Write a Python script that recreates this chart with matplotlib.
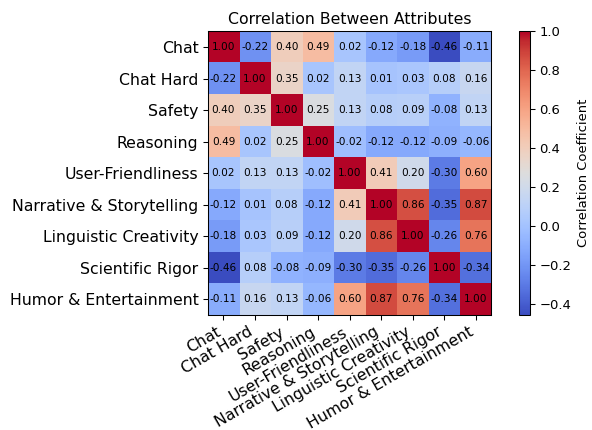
import numpy as np
import matplotlib
matplotlib.use("Agg")
import matplotlib.pyplot as plt

attributes = ["Chat", "Chat Hard", "Safety", "Reasoning", "User-Friendliness",
              "Narrative & Storytelling", "Linguistic Creativity",
              "Scientific Rigor", "Humor & Entertainment"]

chat = [1.00, -0.22, 0.40, 0.49, 0.02, -0.12, -0.18, -0.46, -0.11]
chat_hard = [-0.22, 1.00, 0.35, 0.02, 0.13, 0.01, 0.03, 0.08, 0.16]
safety = [0.40, 0.35, 1.00, 0.25, 0.13, 0.08, 0.09, -0.08, 0.13]
reasoning = [0.49, 0.02, 0.25, 1.00, -0.02, -0.12, -0.12, -0.09, -0.06]
user_friendly = [0.02, 0.13, 0.13, -0.02, 1.00, 0.41, 0.20, -0.30, 0.60]
narrative = [-0.12, 0.01, 0.08, -0.12, 0.41, 1.00, 0.86, -0.35, 0.87]
linguistic = [-0.18, 0.03, 0.09, -0.12, 0.20, 0.86, 1.00, -0.26, 0.76]
scientific = [-0.46, 0.08, -0.08, -0.09, -0.30, -0.35, -0.26, 1.00, -0.34]
humor = [-0.11, 0.16, 0.13, -0.06, 0.60, 0.87, 0.76, -0.34, 1.00]

corr = np.array([chat, chat_hard, safety, reasoning, user_friendly,
                 narrative, linguistic, scientific, humor])

DPI = 94.5
fig = plt.figure(figsize=(592 / DPI, 430 / DPI), dpi=DPI)
ax = fig.add_axes([0.350, 0.267, 0.481, 0.660])
cax = fig.add_axes([0.877, 0.267, 0.019, 0.660])

im = ax.imshow(corr, cmap="coolwarm", interpolation="nearest")
cb = fig.colorbar(im, cax=cax)
cb.set_label("Correlation Coefficient")

n = len(attributes)
ax.set_xticks(range(n))
ax.set_yticks(range(n))
ax.set_xticklabels(attributes, rotation=30, ha="right", fontsize=12)
ax.set_yticklabels(attributes, fontsize=12)

# value labels in every cell
for i in range(n):
    for j in range(n):
        ax.text(j, i, f"{corr[i, j]:.2f}", ha="center", va="center",
                fontsize=8, color="black")

ax.set_title("Correlation Between Attributes")

fig.savefig("out.png", dpi=DPI)
